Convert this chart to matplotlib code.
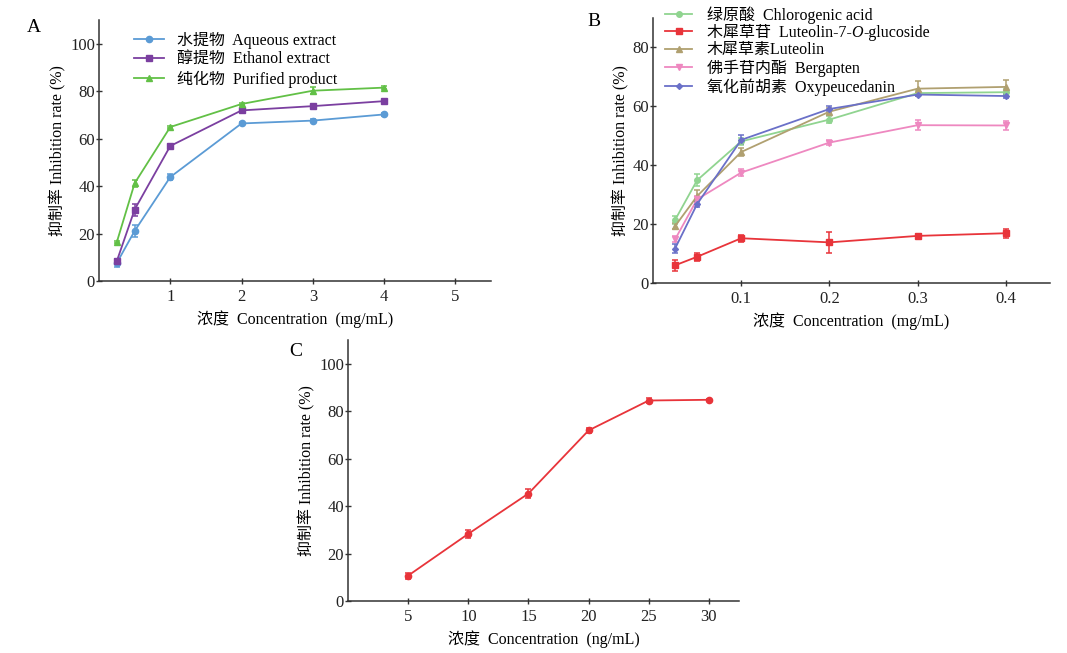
import matplotlib
matplotlib.use("Agg")
import matplotlib.pyplot as plt
from matplotlib.lines import Line2D

plt.rcParams["font.family"] = ["Liberation Serif", "Noto Sans CJK SC"]
plt.rcParams["axes.unicode_minus"] = False

# panel A: extracts
conc_a = [0.25, 0.5, 1, 2, 3, 4]
aqueous = [7.6, 21.1, 43.8, 66.4, 67.6, 70.2]
aqueous_err = [1.5, 2.5, 1.2, 0.8, 0.6, 0.6]
ethanol = [8.4, 30.1, 56.9, 71.9, 73.7, 75.8]
ethanol_err = [1.0, 2.5, 0.8, 0.8, 0.6, 0.6]
purified = [16.4, 41.2, 64.9, 74.6, 80.2, 81.5]
purified_err = [0.5, 1.5, 0.6, 0.6, 1.5, 0.6]
labels_a = ["水提物  Aqueous extract", "醇提物  Ethanol extract", "纯化物  Purified product"]

# panel B: compounds
conc_b = [0.025, 0.05, 0.1, 0.2, 0.3, 0.4]
chlorogenic = [21.4, 34.9, 48.1, 55.5, 64.5, 64.8]
chlorogenic_err = [1.5, 2.0, 1.2, 1.2, 1.0, 1.2]
lut_glu = [6.0, 8.9, 15.2, 13.8, 16.0, 16.9]
lut_glu_err = [1.8, 1.3, 1.2, 3.5, 0.6, 1.5]
luteolin = [19.3, 29.5, 44.5, 58.2, 66.0, 66.6]
luteolin_err = [1.0, 2.0, 1.2, 1.2, 2.5, 2.3]
bergapten = [14.8, 28.4, 37.5, 47.7, 53.6, 53.5]
bergapten_err = [1.0, 1.0, 1.2, 1.0, 1.6, 1.5]
oxypeu = [11.7, 26.8, 48.6, 59.1, 64.0, 63.5]
oxypeu_err = [1.5, 1.0, 1.5, 1.0, 0.6, 0.6]
labels_b = ["绿原酸  Chlorogenic acid", "木犀草苷  Luteolin-7-",
            "木犀草素Luteolin", "佛手苷内酯  Bergapten", "氧化前胡素  Oxypeucedanin"]

# panel C
conc_c = [5, 10, 15, 20, 25, 30]
rate_c = [10.7, 28.3, 45.3, 71.9, 84.5, 84.8]
rate_c_err = [1.3, 1.8, 2.0, 1.2, 1.2, 0.5]

fig = plt.figure(figsize=(10.67, 6.53), dpi=100)
W, H = 1067, 653


def make_axes(x0, y0, x1, y1):
    ax = fig.add_axes([x0 / W, 1 - y1 / H, (x1 - x0) / W, (y1 - y0) / H])
    for s in ["top", "right"]:
        ax.spines[s].set_visible(False)
    for s in ["left", "bottom"]:
        ax.spines[s].set_color("#333333")
        ax.spines[s].set_linewidth(1.1)
    ax.tick_params(direction="inout", length=4.5, width=1.0, colors="#333333",
                   labelsize=12, labelcolor="#222222")
    ax.tick_params(axis="y", pad=0.6)
    ax.tick_params(axis="x", pad=3.5)
    return ax


def series(ax, x, y, e, color, marker, ms=5):
    ax.errorbar(x, y, yerr=e, color=color, marker=marker, markersize=ms,
                linewidth=1.3, elinewidth=1.1, capsize=2.5, capthick=1.1)
    return Line2D([], [], color=color, marker=marker, markersize=ms, linewidth=1.3)


ylabel = "抑制率 Inhibition rate (%)"

# A
axA = make_axes(99, 20, 491, 281)
hA = [series(axA, conc_a, aqueous, aqueous_err, "#5b9bd5", "o", 4.5),
      series(axA, conc_a, ethanol, ethanol_err, "#7b3fa0", "s", 5),
      series(axA, conc_a, purified, purified_err, "#62c046", "^", 5)]
axA.set_xlim(0, 5.5)
axA.set_ylim(0, 110)
axA.set_xticks([1, 2, 3, 4, 5])
axA.set_yticks([0, 20, 40, 60, 80, 100])
axA.set_xlabel("浓度  Concentration  (mg/mL)", fontsize=11.5, labelpad=4)
axA.set_ylabel(ylabel, fontsize=11.5, labelpad=2.5)
axA.legend(hA, labels_a, loc="upper left", bbox_to_anchor=(126 / W, 1 - 24 / H),
           bbox_transform=fig.transFigure, frameon=False, fontsize=11.5,
           borderpad=0, handlelength=1.9, handletextpad=0.8, labelspacing=0.18)
fig.text(27 / W, 1 - 27 / H, "A", fontsize=14, va="center", ha="left")

# B
axB = make_axes(653, 18, 1050, 283)
hB = [series(axB, conc_b, chlorogenic, chlorogenic_err, "#90d490", "o", 4),
      series(axB, conc_b, lut_glu, lut_glu_err, "#e8343a", "s", 5),
      series(axB, conc_b, luteolin, luteolin_err, "#b0a070", "^", 4.5),
      series(axB, conc_b, bergapten, bergapten_err, "#ee88c0", "v", 4.5),
      series(axB, conc_b, oxypeu, oxypeu_err, "#6a70c8", "D", 3)]
axB.set_xlim(0, 0.45)
axB.set_ylim(0, 90)
axB.set_xticks([0.1, 0.2, 0.3, 0.4])
axB.set_yticks([0, 20, 40, 60, 80])
axB.set_xlabel("浓度  Concentration  (mg/mL)", fontsize=11.5, labelpad=4)
axB.set_ylabel(ylabel, fontsize=11.5, labelpad=2.5)
legB = axB.legend(hB, labels_b, loc="upper left", bbox_to_anchor=(657 / W, 1 + 2 / H),
                  bbox_transform=fig.transFigure, frameon=False, fontsize=11.5,
                  borderpad=0, handlelength=1.7, handletextpad=0.9, labelspacing=0.08)
fig.text(587 / W, 1 - 22 / H, "B", fontsize=14, va="center", ha="left")

# C
axC = make_axes(348, 340, 739, 601)
series(axC, conc_c, rate_c, rate_c_err, "#e8343a", "o", 4.5)
axC.set_xlim(0, 32.5)
axC.set_ylim(0, 110)
axC.set_xticks(conc_c)
axC.set_yticks([0, 20, 40, 60, 80, 100])
axC.set_xlabel("浓度  Concentration  (ng/mL)", fontsize=11.5, labelpad=4)
axC.set_ylabel(ylabel, fontsize=11.5, labelpad=2.5)
fig.text(289 / W, 1 - 352 / H, "C", fontsize=14, va="center", ha="left")

# italic O in the second legend entry of B
fig.canvas.draw()
renderer = fig.canvas.get_renderer()
t = legB.get_texts()[1]
bb = t.get_window_extent(renderer)
bx, by = t.get_transform().transform(t.get_position())
fw, fh = fig.bbox.width, fig.bbox.height
o_txt = fig.text(bb.x1 / fw, by / fh, "O", fontsize=11.5, fontstyle="italic",
                 va="baseline", ha="left")
ob = o_txt.get_window_extent(renderer)
fig.text(ob.x1 / fw, by / fh, "-glucoside", fontsize=11.5, va="baseline", ha="left")

fig.savefig("out.png", dpi=100)
